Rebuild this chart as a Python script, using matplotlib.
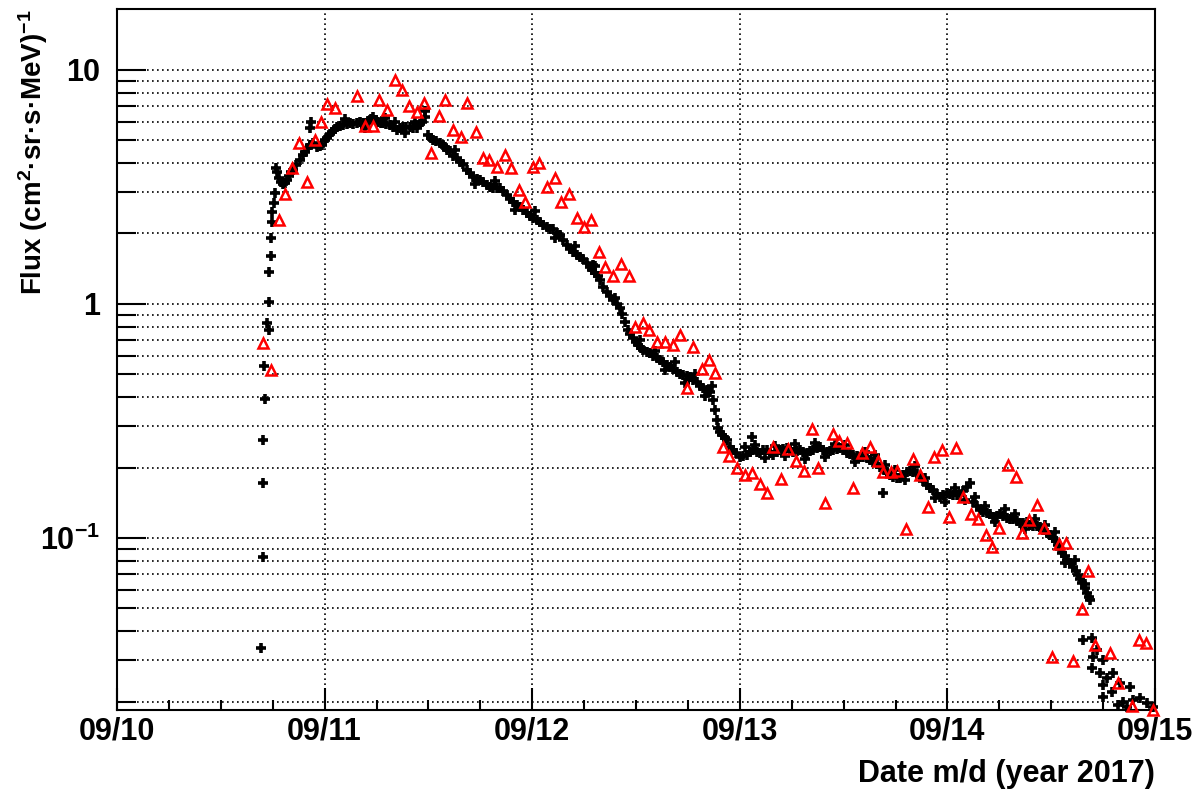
import matplotlib
matplotlib.use("Agg")
import matplotlib.pyplot as plt
from matplotlib.ticker import FixedLocator, FixedFormatter, NullFormatter

# hours since 2017-09-10 00:00 UT, flux in (cm2 sr s MeV)^-1
black_hrs = [
    16.65, 16.88, 16.88, 16.88, 17.11, 16.99, 17.34, 17.57, 17.57, 17.57,
    17.80, 17.80, 17.92, 17.92, 18.15, 18.27, 18.38, 18.50, 18.73, 18.96,
    19.19, 19.42, 19.65, 19.88, 20.12, 20.35, 20.69, 21.16, 21.50, 21.73,
    22.08, 22.31, 22.31, 22.43, 22.66, 23.12, 23.47, 23.70, 24.05, 24.28,
    24.62, 24.86, 25.20, 25.43, 25.78, 26.13, 26.59, 26.94, 27.28, 27.75,
    28.09, 28.44, 28.79, 29.02, 29.36, 29.60, 29.94, 30.17, 30.52, 30.75,
    31.10, 31.56, 31.91, 32.37, 32.72, 33.06, 33.41, 33.87, 34.22, 34.68,
    35.03, 35.26, 35.61, 35.61, 35.95, 36.30, 36.53, 36.88, 37.34, 37.69,
    37.92, 38.15, 38.50, 38.84, 39.31, 39.65, 40.00, 40.46, 40.81, 41.16,
    41.62, 41.97, 42.31, 42.77, 43.12, 43.47, 43.93, 44.28, 44.62, 45.09,
    45.43, 45.78, 46.24, 46.59, 46.94, 47.40, 47.75, 48.09, 48.55, 48.90,
    49.25, 49.71, 50.06, 50.40, 50.87, 51.21, 51.56, 52.02, 52.37, 52.72,
    53.18, 53.53, 53.87, 54.34, 54.68, 54.91, 55.03, 55.26, 55.61, 55.84,
    56.18, 56.65, 56.99, 57.34, 57.80, 58.15, 58.38, 58.73, 59.08, 59.31,
    59.65, 60.00, 60.23, 60.58, 60.81, 61.27, 61.62, 61.97, 62.43, 62.77,
    63.12, 63.58, 63.93, 64.28, 64.74, 65.09, 65.43, 65.90, 66.24, 66.59,
    67.05, 67.40, 67.75, 68.21, 68.55, 68.79, 68.90, 69.13, 69.36, 69.48,
    69.71, 69.94, 70.29, 70.52, 70.87, 71.21, 71.56, 72.02, 72.37, 72.83,
    73.18, 73.41, 73.53, 73.99, 74.34, 74.68, 75.14, 75.49, 75.84, 76.30,
    76.65, 76.99, 77.46, 77.80, 78.15, 78.61, 78.96, 79.31, 79.77, 80.12,
    80.46, 80.92, 81.27, 81.62, 82.08, 82.43, 82.78, 83.24, 83.58, 83.93,
    84.39, 84.74, 85.09, 85.55, 85.90, 86.24, 86.71, 87.05, 87.40, 87.86,
    88.21, 88.55, 88.67, 89.02, 89.36, 89.71, 90.17, 90.52, 90.87, 91.33,
    91.68, 92.02, 92.49, 92.83, 93.18, 93.64, 93.99, 94.34, 94.80, 95.14,
    95.49, 95.95, 96.30, 96.65, 97.11, 97.46, 97.80, 98.27, 98.61, 98.96,
    99.42, 99.77, 100.12, 100.58, 100.92, 101.27, 101.73, 102.08, 102.43, 102.89,
    103.24, 103.58, 104.05, 104.39, 104.74, 105.20, 105.55, 105.90, 106.36, 106.71,
    107.05, 107.51, 107.86, 108.21, 108.55, 108.79, 109.02, 109.25, 109.60, 109.83,
    110.17, 110.52, 110.87, 111.10, 111.33, 111.56, 111.91, 112.14, 112.37, 112.49,
    111.67, 112.72, 113.29, 112.83, 113.99, 112.72, 113.64, 114.45, 115.14, 115.95,
    113.99, 115.03, 117.11, 113.99, 116.30, 117.46, 118.27, 116.76, 119.08, 119.77,
    115.72,
    72.60, 73.76, 74.91, 76.07, 77.22, 78.38, 79.54, 80.69, 81.85, 83.01,
    84.16, 85.32, 86.47, 87.63, 88.79, 89.94, 91.10, 92.25, 93.41, 94.57,
    95.72, 96.88, 98.03, 99.19, 100.35, 101.50, 102.66, 103.81, 104.97, 106.13,
    107.28, 108.44, 109.60, 110.75, 111.91,
    60.46, 62.20, 63.35, 64.51, 65.66, 66.82, 67.98,
    39.08, 41.39, 43.70, 46.01, 48.32, 50.64, 52.95, 55.26, 57.57,
    26.36, 28.67, 30.98, 33.29, 32.14, 34.45,
]
black_flux = [
    0.0339, 0.0830, 0.171, 0.263, 0.393, 0.544, 0.830, 0.774, 1.02, 1.37,
    1.60, 1.92, 2.24, 2.47, 2.70, 2.98, 3.82, 3.67, 3.46, 3.33,
    3.26, 3.29, 3.39, 3.52, 3.67, 3.74, 3.93, 4.13, 4.34, 4.47,
    4.65, 4.78, 5.65, 6.00, 4.88, 4.69, 4.74, 4.78, 5.03, 5.13,
    5.33, 5.44, 5.60, 5.71, 5.77, 5.82, 5.88, 5.94, 5.88, 5.94,
    6.00, 5.94, 5.94, 6.06, 6.18, 6.30, 6.12, 6.00, 5.94, 5.94,
    5.88, 5.82, 5.71, 5.55, 5.65, 5.71, 5.71, 5.71, 5.65, 5.65,
    5.88, 6.00, 6.30, 6.68, 5.28, 5.13, 5.03, 4.98, 4.88, 4.78,
    4.69, 4.56, 4.51, 4.30, 4.21, 4.05, 3.97, 3.74, 3.63, 3.49,
    3.42, 3.39, 3.33, 3.23, 3.17, 3.14, 3.14, 3.14, 3.04, 2.93,
    2.81, 2.73, 2.65, 2.60, 2.53, 2.45, 2.38, 2.34, 2.29, 2.24,
    2.18, 2.14, 2.09, 2.08, 2.01, 1.97, 1.88, 1.79, 1.72, 1.67,
    1.62, 1.59, 1.55, 1.50, 1.44, 1.40, 1.47, 1.36, 1.31, 1.27,
    1.18, 1.13, 1.08, 1.04, 1.00, 0.961, 0.906, 0.838, 0.774, 0.745,
    0.716, 0.688, 0.668, 0.649, 0.636, 0.624, 0.618, 0.600, 0.588, 0.577,
    0.565, 0.549, 0.538, 0.528, 0.513, 0.503, 0.498, 0.493, 0.488, 0.474,
    0.465, 0.447, 0.438, 0.430, 0.421, 0.447, 0.389, 0.352, 0.319, 0.295,
    0.284, 0.276, 0.268, 0.263, 0.245, 0.238, 0.231, 0.222, 0.224, 0.227,
    0.233, 0.270, 0.238, 0.233, 0.231, 0.238, 0.238, 0.231, 0.227, 0.233,
    0.238, 0.240, 0.243, 0.238, 0.233, 0.236, 0.238, 0.233, 0.231, 0.236,
    0.238, 0.243, 0.245, 0.238, 0.233, 0.236, 0.238, 0.240, 0.243, 0.238,
    0.231, 0.229, 0.227, 0.224, 0.222, 0.222, 0.220, 0.216, 0.211, 0.2075,
    0.201, 0.156, 0.195, 0.191, 0.186, 0.182, 0.180, 0.180, 0.186, 0.191,
    0.193, 0.191, 0.188, 0.182, 0.175, 0.168, 0.164, 0.160, 0.1545, 0.150,
    0.153, 0.156, 0.1545, 0.153, 0.153, 0.153, 0.159, 0.165, 0.172, 0.142,
    0.137, 0.132, 0.129, 0.128, 0.126, 0.123, 0.124, 0.126, 0.124, 0.122,
    0.121, 0.120, 0.118, 0.116, 0.116, 0.117, 0.114, 0.112, 0.112, 0.111,
    0.108, 0.105, 0.103, 0.100, 0.0971, 0.0934, 0.0898, 0.0863, 0.0838, 0.0806,
    0.0782, 0.0752, 0.0723, 0.0695, 0.0668, 0.0642, 0.0612, 0.0582, 0.0560, 0.0544,
    0.0367, 0.0374, 0.0333, 0.0310, 0.0301, 0.0279, 0.0265, 0.0253, 0.0265, 0.0240,
    0.0236, 0.0220, 0.0231, 0.0209, 0.0199, 0.0203, 0.0207, 0.0190, 0.0197, 0.0190,
    0.0193,
    0.245, 0.250, 0.220, 0.248, 0.224, 0.253, 0.218, 0.255, 0.222, 0.253,
    0.250, 0.211, 0.233, 0.227, 0.205, 0.195, 0.177, 0.203, 0.180, 0.148,
    0.142, 0.164, 0.145, 0.150, 0.137, 0.117, 0.133, 0.127, 0.109, 0.120,
    0.114, 0.106, 0.0782, 0.0806, 0.0636,
    0.702, 0.630, 0.523, 0.565, 0.460, 0.503, 0.405,
    4.56, 3.26, 3.36, 2.53, 2.50, 1.92, 1.77, 1.45, 1.06,
    6.18, 5.65, 6.24, 5.38, 6.00, 6.00,
]

red_hrs = [
    16.88, 17.80, 18.73, 19.42, 20.23, 21.04, 21.97, 22.89, 23.58, 24.28,
    25.20, 27.75, 28.67, 29.60, 30.29, 31.21, 32.14, 32.95, 33.76, 34.68,
    35.49, 36.30, 37.23, 37.92, 38.84, 39.77, 40.46, 41.50, 42.31, 43.01,
    43.93, 44.86, 45.55, 46.48, 47.17, 48.09, 48.79, 49.71, 50.64, 51.33,
    52.26, 53.18, 53.99, 54.80, 55.72, 56.42, 57.34, 58.27, 59.19, 59.89,
    60.81, 61.50, 62.43, 63.35, 64.28, 65.09, 65.90, 66.59, 67.63, 68.44,
    69.13, 70.06, 70.75, 71.68, 72.60, 73.41, 74.34, 75.15, 75.84, 76.77,
    77.57, 78.50, 79.42, 80.35, 81.04, 81.85, 82.78, 83.47, 84.40, 85.09,
    86.13, 87.05, 87.98, 88.56, 89.48, 90.18, 91.22, 92.03, 92.83, 93.76,
    94.45, 95.38, 96.19, 97.00, 97.81, 98.73, 99.54, 100.47, 101.16, 101.97,
    103.01, 103.93, 104.63, 105.44, 106.36, 107.17, 108.10, 108.90, 109.71, 110.52,
    111.56, 112.26, 113.07, 114.80, 115.73, 117.34, 118.15, 118.96, 119.77,
]
red_flux = [
    0.681, 0.522, 2.29, 2.95, 3.81, 4.88, 3.32, 5.02, 5.99, 7.16,
    6.88, 7.74, 5.77, 5.77, 7.45, 6.75, 9.06, 8.22, 7.02, 6.62,
    7.23, 4.42, 6.36, 7.45, 5.54, 5.17, 7.23, 5.43, 4.21, 4.12,
    3.85, 4.33, 3.81, 3.07, 2.73, 3.85, 4.01, 3.16, 3.45, 2.73,
    2.95, 2.33, 2.13, 2.29, 1.67, 1.44, 1.32, 1.48, 1.32, 0.798,
    0.829, 0.774, 0.688, 0.688, 0.668, 0.737, 0.438, 0.655, 0.528, 0.576,
    0.507, 0.245, 0.224, 0.199, 0.186, 0.190, 0.170, 0.156, 0.245, 0.179,
    0.240, 0.213, 0.193, 0.292, 0.199, 0.141, 0.278, 0.260, 0.255, 0.164,
    0.231, 0.245, 0.213, 0.191, 0.191, 0.193, 0.109, 0.218, 0.186, 0.136,
    0.222, 0.238, 0.123, 0.243, 0.150, 0.127, 0.121, 0.103, 0.0916, 0.110,
    0.205, 0.182, 0.105, 0.119, 0.138, 0.110, 0.0310, 0.0942, 0.0952, 0.0298,
    0.0498, 0.0723, 0.0349, 0.0323, 0.0240, 0.0191, 0.0367, 0.0356, 0.0184,
]

day_ticks = [0, 24, 48, 72, 96, 120]
day_labels = ["09/10", "09/11", "09/12", "09/13", "09/14", "09/15"]
y_major = [0.1, 1, 10]
y_labels = ["10$^{-1}$", "1", "10"]

plt.rcParams["font.family"] = ["Liberation Sans", "DejaVu Sans"]
plt.rcParams["font.weight"] = "bold"
plt.rcParams["axes.labelweight"] = "bold"
plt.rcParams["mathtext.fontset"] = "custom"
plt.rcParams["mathtext.rm"] = "Liberation Sans:bold"
plt.rcParams["mathtext.it"] = "Liberation Sans:bold"
plt.rcParams["mathtext.bf"] = "Liberation Sans:bold"
plt.rcParams["mathtext.default"] = "rm"

fig = plt.figure(figsize=(12, 7.92), dpi=100)
ax = fig.add_axes([0.0975, 0.1035, 0.865, 0.8851])

ax.plot(black_hrs, black_flux, linestyle="none", marker="+", ms=7, mew=2.6,
        color="black", clip_on=False, zorder=3)
ax.plot(red_hrs, red_flux, linestyle="none", marker="^", ms=6.5, mew=1.8,
        mfc="none", mec="red", clip_on=False, zorder=4)

ax.set_yscale("log")
ax.set_xlim(0, 120)
ax.set_ylim(0.0184, 18.2)

ax.xaxis.set_major_locator(FixedLocator(day_ticks))
ax.xaxis.set_major_formatter(FixedFormatter(day_labels))
ax.xaxis.set_minor_locator(FixedLocator([h for h in range(0, 121, 6) if h % 24]))

minors = [m * 10.0 ** e for e in (-2, -1, 0) for m in range(2, 10)]
ax.yaxis.set_major_locator(FixedLocator(y_major))
ax.yaxis.set_major_formatter(FixedFormatter(y_labels))
ax.yaxis.set_minor_locator(FixedLocator(minors))
ax.yaxis.set_minor_formatter(NullFormatter())

ax.tick_params(axis="x", which="major", direction="in", length=16, width=1.5,
               labelsize=22, pad=5, top=False)
ax.tick_params(axis="x", which="minor", direction="in", length=7.5, width=1.5,
               top=False)
ax.tick_params(axis="y", which="major", direction="in", length=21, width=1.5,
               labelsize=22, pad=12, right=False)
ax.tick_params(axis="y", which="minor", direction="in", length=13.5, width=1.5,
               right=False)

grid_style = dict(color="black", linestyle=(0, (1, 2)), linewidth=1.2)
ax.xaxis.grid(True, which="major", **grid_style)
ax.yaxis.grid(True, which="both", **grid_style)

for sp in ax.spines.values():
    sp.set_linewidth(1.5)

ax.set_xlabel("Date m/d (year 2017)", fontsize=22, loc="right", labelpad=9)
ax.set_ylabel("Flux (cm$^{2}$·sr·s·MeV)$^{-1}$", fontsize=20, loc="top")
ax.yaxis.set_label_coords(-0.0645, 1.0)

fig.savefig("out.png", dpi=100)
